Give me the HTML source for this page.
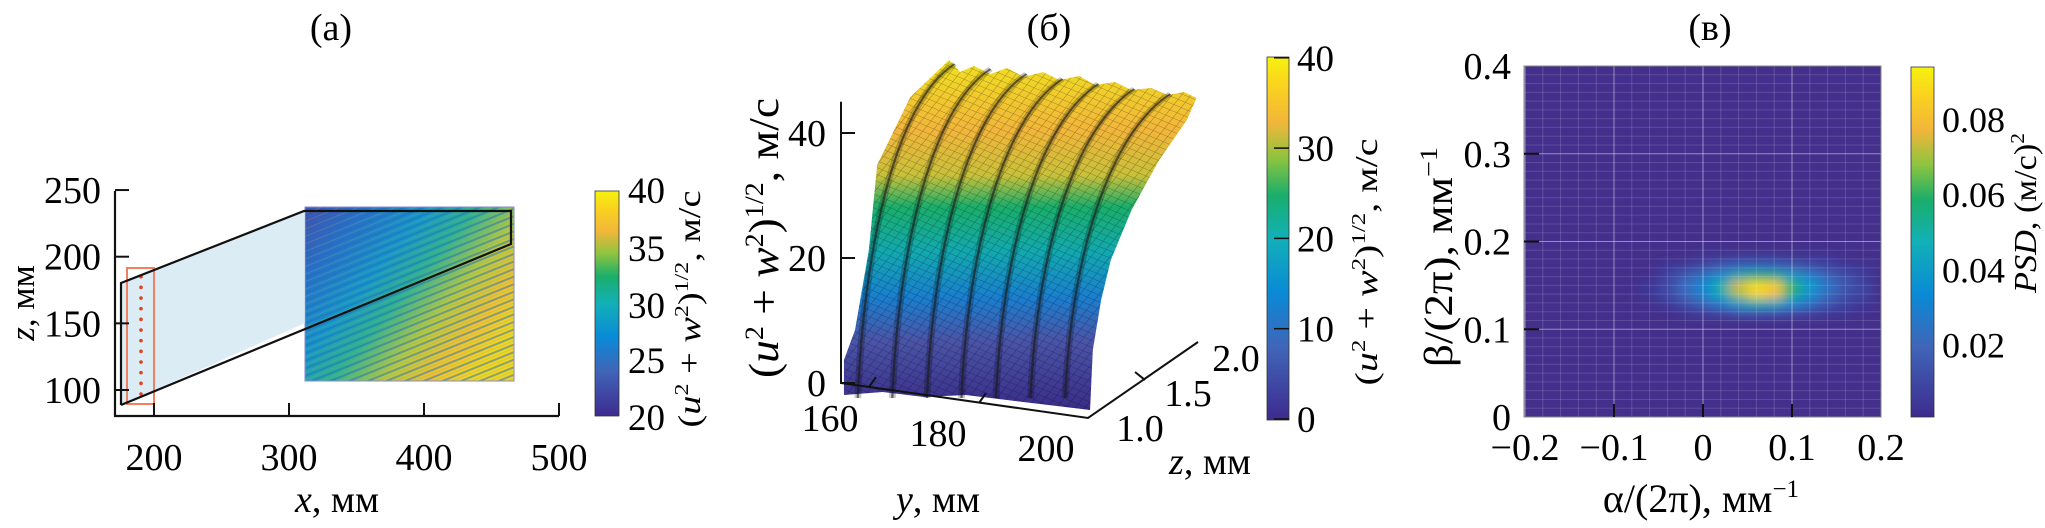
<!DOCTYPE html>
<html><head><meta charset="utf-8"><style>
html,body{margin:0;padding:0;background:#fff;}
svg{display:block;font-family:"Liberation Serif",serif;}
</style></head><body>
<svg id="fig" width="2045" height="528" viewBox="0 0 2045 528" xmlns="http://www.w3.org/2000/svg">
<defs>
<linearGradient id="cmapV" x1="0" y1="1" x2="0" y2="0">
<stop offset="0" stop-color="#3d2b8e"/><stop offset="0.2" stop-color="#4065b8"/><stop offset="0.35" stop-color="#0a8ad6"/><stop offset="0.5" stop-color="#12b0b8"/><stop offset="0.62" stop-color="#1aae6b"/><stop offset="0.72" stop-color="#8cc43f"/><stop offset="0.82" stop-color="#f2b63a"/><stop offset="0.92" stop-color="#fad21f"/><stop offset="1" stop-color="#f6f20f"/>
</linearGradient>
<linearGradient id="surfGrad" x1="0" y1="60" x2="0" y2="410" gradientUnits="userSpaceOnUse">
<stop offset="0" stop-color="#f0e020"/><stop offset="0.2" stop-color="#f2b63a"/><stop offset="0.33" stop-color="#c8c03a"/><stop offset="0.42" stop-color="#1aae6b"/><stop offset="0.55" stop-color="#12a8b0"/><stop offset="0.68" stop-color="#1a7ecf"/><stop offset="0.8" stop-color="#4a55a8"/><stop offset="1" stop-color="#3a2c88"/>
</linearGradient>
<linearGradient id="hmA" x1="0" y1="0" x2="1" y2="0.7">
<stop offset="0" stop-color="#4a4aa8"/><stop offset="0.2" stop-color="#2a70c8"/><stop offset="0.4" stop-color="#1896c8"/><stop offset="0.55" stop-color="#30b090"/><stop offset="0.72" stop-color="#b8c640"/><stop offset="0.86" stop-color="#f2c030"/><stop offset="1" stop-color="#f4d420"/>
</linearGradient>
<pattern id="stripes" width="7" height="7" patternUnits="userSpaceOnUse" patternTransform="rotate(-22)">
<rect x="0" y="0" width="7" height="2" fill="#1a70c0" opacity="0.5"/>
<rect x="0" y="4" width="7" height="1" fill="#60c090" opacity="0.3"/>
</pattern>
<pattern id="mesh" width="6" height="6" patternUnits="userSpaceOnUse" patternTransform="rotate(30)">
<path d="M0 0 L6 0 M0 0 L0 6" stroke="#000" stroke-width="0.8" opacity="0.35"/>
</pattern>
<filter id="blurF" x="-20%" y="-20%" width="140%" height="140%"><feGaussianBlur stdDeviation="6 5"/></filter>
<clipPath id="clipC"><rect x="1524" y="66" width="357" height="351"/></clipPath>
</defs>

<!-- ===== Panel (a) ===== -->
<g>
<text x="331" y="40" font-size="38" text-anchor="middle">(a)</text>
<rect x="305" y="207" width="209" height="174" fill="url(#hmA)"/>
<rect x="305" y="207" width="209" height="174" fill="url(#stripes)"/>
<rect x="305" y="207" width="209" height="174" fill="none" stroke="#8a8ad0" stroke-width="1"/>
<polygon points="121,283 304,211 305,211 305,323 121,405" fill="#cfe6f2" opacity="0.75"/>
<rect x="127" y="268" width="27" height="136" fill="none" stroke="#f08060" stroke-width="2"/>
<g id="dotsA"></g>
<polyline points="121,405 121,283 304,211 511,211 511,244 121,405" fill="none" stroke="#111" stroke-width="2.2"/>
<g id="axA"></g>
<rect x="595" y="191" width="24" height="225" fill="url(#cmapV)" stroke="#333" stroke-width="0.8"/>
<text x="628" y="203" font-size="37">40</text>
<text x="628" y="261" font-size="37">35</text>
<text x="628" y="318" font-size="37">30</text>
<text x="628" y="373" font-size="37">25</text>
<text x="628" y="430" font-size="37">20</text>
<text transform="translate(700,309) rotate(-90)" font-size="32" text-anchor="middle" textLength="237" lengthAdjust="spacingAndGlyphs">(<tspan font-style="italic">u</tspan><tspan font-size="20" dy="-12">2</tspan><tspan dy="12"> + </tspan><tspan font-style="italic">w</tspan><tspan font-size="20" dy="-12">2</tspan><tspan dy="12">)</tspan><tspan font-size="20" dy="-12">1/2</tspan><tspan dy="12">, м/с</tspan></text>
</g>

<!-- ===== Panel (b) ===== -->
<g>
<text x="1049" y="40" font-size="38" text-anchor="middle">(б)</text>
<g transform="matrix(1.3825,0,0,1,-237.15,0)">
<polygon points="782,395 782,360 790,330 800,250 806,165 830,97 858,60 866,72 876,66 888,74 900,68 912,77 926,72 938,80 952,76 964,85 978,82 990,90 1004,88 1016,95 1028,92 1037,98 1030,120 1010,160 990,210 975,260 968,300 962,350 960,410 930,405 900,400 870,395 840,397 810,392" fill="url(#surfGrad)"/>
<polygon points="782,395 782,360 790,330 800,250 806,165 830,97 858,60 866,72 876,66 888,74 900,68 912,77 926,72 938,80 952,76 964,85 978,82 990,90 1004,88 1016,95 1028,92 1037,98 1030,120 1010,160 990,210 975,260 968,300 962,350 960,410 930,405 900,400 870,395 840,397 810,392" fill="url(#mesh)"/>
<g id="ridges"></g>
</g>
<g id="axB"></g>
<text transform="translate(778,238) rotate(-90)" font-size="42" text-anchor="middle" textLength="280" lengthAdjust="spacingAndGlyphs">(<tspan font-style="italic">u</tspan><tspan font-size="26" dy="-15">2</tspan><tspan dy="15"> + </tspan><tspan font-style="italic">w</tspan><tspan font-size="26" dy="-15">2</tspan><tspan dy="15">)</tspan><tspan font-size="26" dy="-15">1/2</tspan><tspan dy="15">, м/с</tspan></text>
<text x="938" y="512" font-size="38" text-anchor="middle"><tspan font-style="italic">y</tspan>, мм</text>
<text x="1210" y="474" font-size="38" text-anchor="middle"><tspan font-style="italic">z</tspan>, мм</text>
<rect x="1267" y="57" width="22" height="363" fill="url(#cmapV)" stroke="#333" stroke-width="0.8"/>
<g id="cbB"></g>
<text transform="translate(1377,262) rotate(-90)" font-size="32" text-anchor="middle" textLength="247" lengthAdjust="spacingAndGlyphs">(<tspan font-style="italic">u</tspan><tspan font-size="20" dy="-12">2</tspan><tspan dy="12"> + </tspan><tspan font-style="italic">w</tspan><tspan font-size="20" dy="-12">2</tspan><tspan dy="12">)</tspan><tspan font-size="20" dy="-12">1/2</tspan><tspan dy="12">, м/с</tspan></text>
</g>

<!-- ===== Panel (c) ===== -->
<g>
<text x="1710" y="40" font-size="38" text-anchor="middle">(в)</text>
<rect x="1524" y="66" width="357" height="351" fill="#44308c"/>
<g clip-path="url(#clipC)"><g id="hmC" filter="url(#blurF)"></g></g>
<g id="gridC"></g>
<g id="axC"></g>
<text transform="translate(1452,257) rotate(-90)" font-size="40" text-anchor="middle" textLength="220" lengthAdjust="spacingAndGlyphs">β/(2π), мм<tspan font-size="25" dy="-15">−1</tspan></text>
<text x="1701" y="512" font-size="40" text-anchor="middle">α/(2π), мм<tspan font-size="25" dy="-15">−1</tspan></text>
<rect x="1911" y="67" width="23" height="350" fill="url(#cmapV)" stroke="#333" stroke-width="0.8"/>
<g id="cbC"></g>
<text transform="translate(2036,213) rotate(-90)" font-size="32" text-anchor="middle" textLength="160" lengthAdjust="spacingAndGlyphs"><tspan font-style="italic">PSD</tspan>, (м/с)<tspan font-size="20" dy="-12">2</tspan></text>
</g>
</svg>
<script>
const NS="http://www.w3.org/2000/svg";
// Panel (a) data
const aXTicks=[200,300,400,500];
const aZTicks=[100,150,200,250];
const aDotsZ=[97,105,113,121,129,137,145,153,161,169,177,185];
// Panel (b) data
const bZTicks=[0,20,40];
const bCbTicks=[0,10,20,30,40];
const bYTickLabels=["160","180","200"];
const bDepthLabels=["1.0","1.5","2.0"];
const bRidges=[0,1,2,3,4,5,6];
// Panel (c) data
const cXTicks=[-0.2,-0.1,0,0.1,0.2];
const cYTicks=[0,0.1,0.2,0.3,0.4];
const cCbTicks=[0.02,0.04,0.06,0.08];
const cAlpha=[-0.06,-0.04,-0.02,0,0.02,0.04,0.06,0.08,0.10,0.12,0.14,0.16,0.18,0.20];
const cBeta=[0.19,0.18,0.17,0.16,0.15,0.14,0.13,0.12,0.11];
const cPSD=[
[0,0,0,0,0,0,0,0,0,0,0,0,0,0],
[0,0,0,.004,.006,.008,.008,.008,.006,.005,.004,0,0,0],
[0,.004,.008,.012,.018,.022,.024,.022,.018,.014,.01,.006,.004,0],
[0,.008,.016,.025,.035,.05,.06,.055,.04,.03,.02,.012,.006,0],
[.004,.01,.022,.032,.05,.075,.09,.085,.06,.04,.025,.014,.008,0],
[.004,.01,.02,.03,.045,.07,.088,.08,.055,.035,.022,.012,.008,0],
[0,.006,.012,.02,.03,.04,.05,.045,.035,.025,.015,.008,.004,0],
[0,0,.004,.008,.012,.018,.02,.018,.014,.01,.006,.004,0,0],
[0,0,0,0,0,0,0,0,0,0,0,0,0,0]];

function mk(tag,attrs,parent,txt){const e=document.createElementNS(NS,tag);for(const k in attrs)e.setAttribute(k,attrs[k]);if(txt!==undefined)e.textContent=txt;parent.appendChild(e);return e;}
const cmStops=[[0,[61,43,142]],[0.2,[64,101,184]],[0.35,[10,138,214]],[0.5,[18,176,184]],[0.62,[26,174,107]],[0.72,[140,196,63]],[0.82,[242,182,58]],[0.92,[250,210,31]],[1,[246,242,15]]];
function cmap(t){t=Math.max(0,Math.min(1,t));for(let i=1;i<cmStops.length;i++){if(t<=cmStops[i][0]){const a=cmStops[i-1],b=cmStops[i],f=(t-a[0])/(b[0]-a[0]);return "rgb("+a[1].map((v,j)=>Math.round(v+(b[1][j]-v)*f)).join(",")+")";}}return "rgb(246,242,15)";}

// ---- Panel (a)
const axA=document.getElementById('axA');
const ax=v=>154+(v-200)*1.35, az=v=>390-(v-100)*1.333;
let l=mk('path',{d:"M115 191 L115 416 L559 416",fill:"none",stroke:"#111","stroke-width":2.2},axA);

aXTicks.forEach(v=>{const x=ax(v);
 const t=mk('line',{x1:x,y1:416,x2:x,y2:403,stroke:"#111","stroke-width":2},axA);
 
 const tx=mk('text',{x:x,y:470,"font-size":38,"text-anchor":"middle"},axA,String(v));
 });
aZTicks.forEach(v=>{const y=az(v);
 const t=mk('line',{x1:115,y1:y,x2:129,y2:y,stroke:"#111","stroke-width":2},axA);
 
 const tx=mk('text',{x:101,y:y+13,"font-size":38,"text-anchor":"end"},axA,String(v));
 });
let xt=mk('text',{x:337,y:512,"font-size":38,"text-anchor":"middle"},axA);
xt.innerHTML='<tspan font-style="italic">x</tspan>, мм';

let zt=mk('text',{transform:"translate(34,303) rotate(-90)","font-size":35,"text-anchor":"middle"},axA);
zt.innerHTML='<tspan font-style="italic">z</tspan>, мм';

const dotsA=document.getElementById('dotsA');
aDotsZ.forEach(v=>{const c=mk('circle',{cx:141,cy:az(v),r:1.8,fill:"#e04020"},dotsA);
 });

// ---- Panel (b)
const axB=document.getElementById('axB');
const bz=v=>383-v*6.25;
let b1=mk('path',{d:"M841 "+bz(45)+" L841 383 L1088 418 L1198 342",fill:"none",stroke:"#111","stroke-width":2},axB);

bZTicks.forEach(v=>{const y=bz(v);
 const t=mk('line',{x1:841,y1:y,x2:855,y2:y,stroke:"#111","stroke-width":2},axB);
 
 const tx=mk('text',{x:826,y:y+13,"font-size":38,"text-anchor":"end"},axB,String(v));
 });
bYTickLabels.forEach((s,i)=>{const x=830+i*108,y=431+i*15;
 const tx=mk('text',{x:x,y:y,"font-size":38,"text-anchor":"middle"},axB,s);
 
 if(i<2){const tk=mk('line',{x1:869+i*110,y1:387+i*16,x2:876+i*110,y2:377+i*16,stroke:"#111","stroke-width":2},axB);
 }});
bDepthLabels.forEach((s,i)=>{const tx=mk('text',{x:1140+i*48,y:441-i*35,"font-size":38,"text-anchor":"middle"},axB,s);
 });
let tk2=mk('line',{x1:1145,y1:380,x2:1135,y2:372,stroke:"#111","stroke-width":2},axB);

const ridges=document.getElementById('ridges');
bRidges.forEach(i=>{const xb=792+i*25,xt=862+i*26,yt=64+i*5;
 const d=`M${xb} 398 C${xb+4} 260 ${xt-45} ${yt+40} ${xt} ${yt}`;
 const sh=mk('path',{d:d,fill:"none",stroke:"#000","stroke-width":5,opacity:0.22},ridges);
 
 const p=mk('path',{d:d,fill:"none",stroke:"#1a1a1a","stroke-width":1.6,opacity:0.6},ridges);
 });
const cbB=document.getElementById('cbB');
bCbTicks.forEach(v=>{const y=419-v*9.03;
 const t=mk('line',{x1:1274,y1:y,x2:1289,y2:y,stroke:"#111","stroke-width":1.5},cbB);
 
 const tx=mk('text',{x:1297,y:Math.max(Math.min(y+13,432),70),"font-size":37},cbB,String(v));
 });

// ---- Panel (c)
const cx=v=>1703+v*890, cy=v=>417-v*877.5;
const hm=document.getElementById('hmC');
cBeta.forEach((b,r)=>cAlpha.forEach((a,c)=>{const v=cPSD[r][c];if(v<=0)return;
 const rc=mk('rect',{x:cx(a-0.01),y:cy(b+0.005),width:17.8,height:8.8,fill:cmap(v/0.094)},hm);
 }));
const gridC=document.getElementById('gridC');
for(let k=-10;k<=10;k++){const x=cx(k*0.02);
 const g=mk('line',{x1:x,y1:66,x2:x,y2:417,stroke:"#fff","stroke-width":1,opacity:k%5===0?0.45:0.15},gridC);
 }
for(let k=0;k<=40;k++){const y=cy(k*0.01);
 const g=mk('line',{x1:1524,y1:y,x2:1881,y2:y,stroke:"#fff","stroke-width":1,opacity:k%10===0?0.45:0.13},gridC);
 }
const axC=document.getElementById('axC');
let fr=mk('rect',{x:1524,y:66,width:357,height:351,fill:"none",stroke:"#888","stroke-width":1},axC);

cXTicks.forEach(v=>{const x=cx(v);
 if(v>-0.2&&v<0.2){const t=mk('line',{x1:x,y1:417,x2:x,y2:404,stroke:"#111","stroke-width":2},axC);
 }
 const tx=mk('text',{x:x,y:460,"font-size":38,"text-anchor":"middle"},axC,v<0?"−"+Math.abs(v):String(v));
 });
cYTicks.forEach(v=>{const y=cy(v);
 if(v>0&&v<0.4){const t=mk('line',{x1:1524,y1:y,x2:1539,y2:y,stroke:"#111","stroke-width":2},axC);
 }
 const tx=mk('text',{x:1511,y:y+13,"font-size":38,"text-anchor":"end"},axC,String(v));
 });
const cbC=document.getElementById('cbC');
cCbTicks.forEach(v=>{const y=420-v*3765;
 const tx=mk('text',{x:1942,y:y+13,"font-size":36},cbC,v.toFixed(2));
 });
</script>
</body></html>
